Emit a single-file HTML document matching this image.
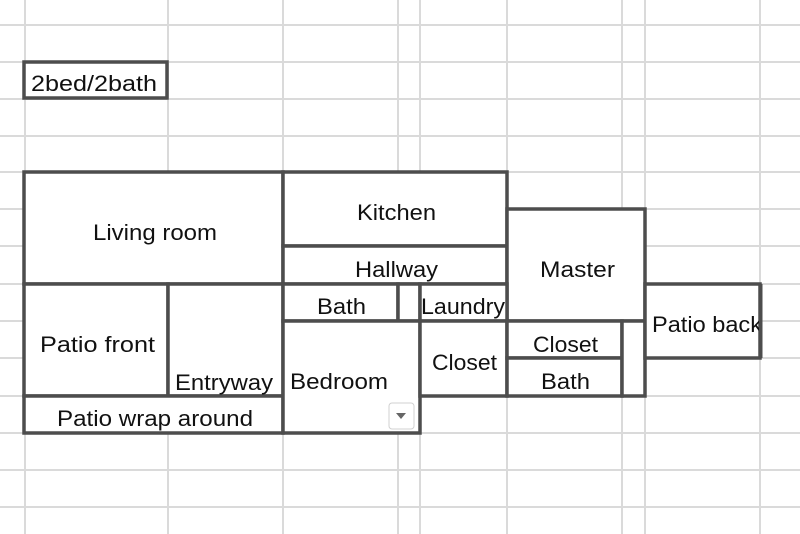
<!DOCTYPE html>
<html><head><style>
html,body{margin:0;padding:0;background:#fff;}
svg{display:block;}
text{font-family:"Liberation Sans",sans-serif;font-size:22px;fill:#111;}
</style></head><body>
<svg width="800" height="534" viewBox="0 0 800 534">
<g stroke="#dadada" stroke-width="2">
<line x1="25" y1="0" x2="25" y2="534"/><line x1="168" y1="0" x2="168" y2="534"/>
<line x1="283" y1="0" x2="283" y2="534"/><line x1="398" y1="0" x2="398" y2="534"/>
<line x1="420" y1="0" x2="420" y2="534"/><line x1="507" y1="0" x2="507" y2="534"/>
<line x1="622" y1="0" x2="622" y2="534"/><line x1="645" y1="0" x2="645" y2="534"/>
<line x1="760" y1="0" x2="760" y2="534"/>
<line x1="0" y1="25" x2="800" y2="25"/><line x1="0" y1="62" x2="800" y2="62"/>
<line x1="0" y1="99" x2="800" y2="99"/><line x1="0" y1="136" x2="800" y2="136"/>
<line x1="0" y1="172" x2="800" y2="172"/><line x1="0" y1="209" x2="800" y2="209"/>
<line x1="0" y1="246" x2="800" y2="246"/><line x1="0" y1="284" x2="800" y2="284"/>
<line x1="0" y1="321" x2="800" y2="321"/><line x1="0" y1="358" x2="800" y2="358"/>
<line x1="0" y1="396" x2="800" y2="396"/><line x1="0" y1="433" x2="800" y2="433"/>
<line x1="0" y1="470" x2="800" y2="470"/><line x1="0" y1="507" x2="800" y2="507"/>
</g>
<g fill="#fff" stroke="#4d4d4d" stroke-width="3.5">
<rect x="24" y="62" width="143" height="36"/>
<rect x="24" y="172" width="259" height="112"/>
<rect x="283" y="172" width="224" height="74"/>
<rect x="283" y="246" width="224" height="38"/>
<rect x="507" y="209" width="138" height="112"/>
<rect x="24" y="284" width="144" height="112"/>
<rect x="168" y="284" width="115" height="112"/>
<rect x="24" y="396" width="259" height="37"/>
<rect x="283" y="284" width="115" height="37"/>
<rect x="398" y="284" width="22" height="37"/>
<rect x="420" y="284" width="87" height="37"/>
<rect x="283" y="321" width="137" height="112"/>
<rect x="420" y="321" width="87" height="75"/>
<rect x="507" y="321" width="115" height="37"/>
<rect x="507" y="358" width="115" height="38"/>
<rect x="622" y="321" width="23" height="75"/>
<rect x="645" y="284" width="115" height="74"/>
</g>
<rect x="389" y="403" width="25" height="26" rx="3" fill="#fff" stroke="#d0d0d0" stroke-width="1"/>
<polygon points="396,413 406,413 401,419" fill="#666"/>
<g>
<text x="31" y="91" textLength="126" lengthAdjust="spacingAndGlyphs">2bed/2bath</text>
<text x="93" y="240" textLength="124" lengthAdjust="spacingAndGlyphs">Living room</text>
<text x="357" y="220" textLength="79" lengthAdjust="spacingAndGlyphs">Kitchen</text>
<text x="355" y="277" textLength="83" lengthAdjust="spacingAndGlyphs">Hallway</text>
<text x="540" y="277" textLength="75" lengthAdjust="spacingAndGlyphs">Master</text>
<text x="40" y="352" textLength="115" lengthAdjust="spacingAndGlyphs">Patio front</text>
<text x="175" y="390" textLength="98" lengthAdjust="spacingAndGlyphs">Entryway</text>
<text x="57" y="426" textLength="196" lengthAdjust="spacingAndGlyphs">Patio wrap around</text>
<text x="317" y="314" textLength="49" lengthAdjust="spacingAndGlyphs">Bath</text>
<text x="421" y="314" textLength="84" lengthAdjust="spacingAndGlyphs">Laundry</text>
<text x="290" y="389" textLength="98" lengthAdjust="spacingAndGlyphs">Bedroom</text>
<text x="432" y="370" textLength="65" lengthAdjust="spacingAndGlyphs">Closet</text>
<text x="533" y="352" textLength="65" lengthAdjust="spacingAndGlyphs">Closet</text>
<text x="541" y="389" textLength="49" lengthAdjust="spacingAndGlyphs">Bath</text>
<text x="652" y="332" textLength="110" lengthAdjust="spacingAndGlyphs">Patio back</text>
</g>
<rect x="759" y="284" width="3.5" height="74" fill="#4d4d4d"/>
</svg>
</body></html>
